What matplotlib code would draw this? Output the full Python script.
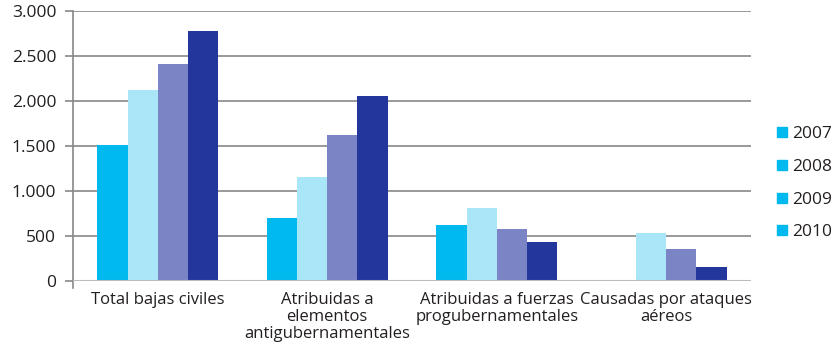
import numpy as np
import matplotlib.pyplot as plt
from matplotlib.lines import Line2D

plt.rcParams['font.family'] = ['Open Sans', 'DejaVu Sans']

categories = ["Total bajas civiles",
              "Atribuidas a\nelementos\nantigubernamentales",
              "Atribuidas a fuerzas\nprogubernamentales",
              "Causadas por ataques\naéreos"]
years = ["2007", "2008", "2009", "2010"]
v2007 = [1510, 700, 625, 0]
v2008 = [2118, 1160, 815, 535]
v2009 = [2412, 1625, 580, 360]
v2010 = [2777, 2060, 440, 160]
colors = ["#00B9EF", "#A8E6F8", "#7B84C4", "#23369C"]
ticks = [0, 500, 1000, 1500, 2000, 2500, 3000]
tick_labels = ["0", "500", "1.000", "1.500", "2.000", "2.500", "3.000"]

fig = plt.figure(figsize=(8.39, 3.51), dpi=100)
ax = fig.add_axes([0.087, 0.199, 0.808, 0.77])

x = np.arange(len(categories))
w = 0.178
for i, vals in enumerate([v2007, v2008, v2009, v2010]):
    ax.bar(x + (i - 1.5) * w, vals, w, color=colors[i], zorder=3)

ax.set_xlim(-0.5, 3.5)
ax.set_ylim(0, 3000)
ax.set_yticks(ticks)
ax.set_yticklabels(tick_labels, fontsize=12.5, color="#231f20")
ax.set_xticks(x)
ax.set_xticklabels(categories, fontsize=12, color="#231f20", linespacing=1.08)
ax.tick_params(axis='x', length=0, pad=8)
ax.tick_params(axis='y', length=6, width=1.2, color="#888888", pad=6)
for t in ticks[1:]:
    ax.axhline(t, color="#888888", lw=1.2, zorder=1)
ax.axhline(0, color="#bbbbbb", lw=1.5, zorder=4)

for s in ["top", "right", "bottom", "left"]:
    ax.spines[s].set_visible(False)
# left axis line runs a little below zero
ax.add_line(Line2D([0, 0], [-0.025, 1], transform=ax.transAxes,
                   color="#888888", lw=1.2, clip_on=False))

handles = [Line2D([], [], marker='s', ls='', markersize=7,
                  color=colors[0]) for _ in years]
fig.legend(handles, years, loc='center left', bbox_to_anchor=(0.925, 0.478),
           frameon=False, fontsize=12.5, handletextpad=0.2, labelspacing=0.95,
           handlelength=0.7, labelcolor="#231f20", borderaxespad=0, borderpad=0)

fig.savefig("out.png", dpi=100)
